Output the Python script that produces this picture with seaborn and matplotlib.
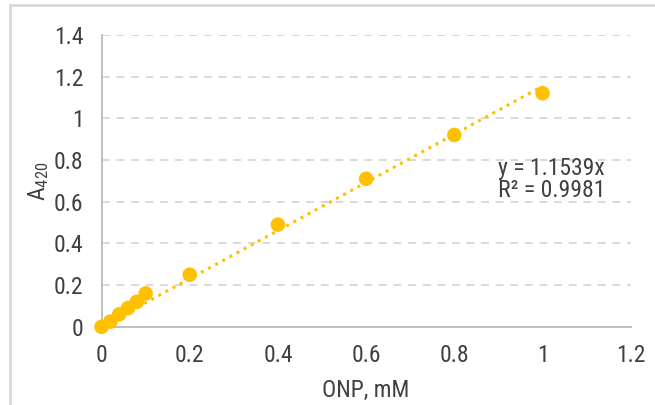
import numpy as np
import matplotlib
matplotlib.use('Agg')
import matplotlib.pyplot as plt
import seaborn as sns
from matplotlib.patches import Rectangle

# datos de la curva de calibración
onp_mm = [0, 0.02, 0.04, 0.06, 0.08, 0.1, 0.2, 0.4, 0.6, 0.8, 1.0]
a420 = [0, 0.025, 0.06, 0.09, 0.12, 0.16, 0.25, 0.49, 0.71, 0.92, 1.12]
pendiente = 1.1539
r2 = 0.9981
x_ticks = [0, 0.2, 0.4, 0.6, 0.8, 1, 1.2]
y_ticks = [0, 0.2, 0.4, 0.6, 0.8, 1, 1.2, 1.4]

sns.set_style('white')
plt.rcParams['font.family'] = ['Roboto Condensed', 'Liberation Sans', 'DejaVu Sans']
plt.rcParams['mathtext.fontset'] = 'custom'
plt.rcParams['mathtext.rm'] = 'Roboto Condensed'

color = '#FFC000'
texto = '#404040'
fs = 17
fig = plt.figure(figsize=(6.55, 4.05), dpi=100)
ax = fig.add_axes([0.155, 0.193, 0.808, 0.721])

# línea de tendencia y = m*x
x_fit = np.array([0, max(onp_mm)])
ax.plot(x_fit, pendiente * x_fit, linestyle=':', color=color, linewidth=2.2, zorder=2)
sns.scatterplot(x=onp_mm, y=a420, color=color, s=110, edgecolor='none', ax=ax,
                zorder=3, clip_on=False)

ax.set_xlim(0, 1.2)
ax.set_ylim(0, 1.4)
ax.set_xticks(x_ticks)
ax.set_xticklabels([f'{t:g}' for t in x_ticks])
ax.set_yticks(y_ticks)
ax.set_yticklabels([f'{t:g}' for t in y_ticks])
ax.tick_params(axis='both', labelsize=fs, colors=texto, length=0)
ax.tick_params(axis='x', pad=12)
ax.tick_params(axis='y', pad=13)
ax.yaxis.grid(True, linestyle=(0, (4, 3.5)), color='#D9D9D9', linewidth=1.4)
ax.set_axisbelow(True)
for s in ['top', 'right']:
    ax.spines[s].set_visible(False)
for s in ['left', 'bottom']:
    ax.spines[s].set_color('#BFBFBF')
    ax.spines[s].set_linewidth(1.4)

ax.set_xlabel('ONP, mM', fontsize=fs, color=texto, labelpad=9)
ax.set_ylabel(r'$\mathregular{A_{420}}$', fontsize=fs, color=texto, labelpad=2)

ax.text(0.9, 0.815, f'y = {pendiente}x\nR² = {r2}', fontsize=fs, color=texto,
        va='top', ha='left', linespacing=0.95)

# marco gris del gráfico
fig.patches.append(Rectangle((10 / 655, -0.1), 1.2, (400 / 405) + 0.1,
                             transform=fig.transFigure, fill=False,
                             edgecolor='#D9D9D9', linewidth=2))

fig.savefig('out.png', dpi=100)
